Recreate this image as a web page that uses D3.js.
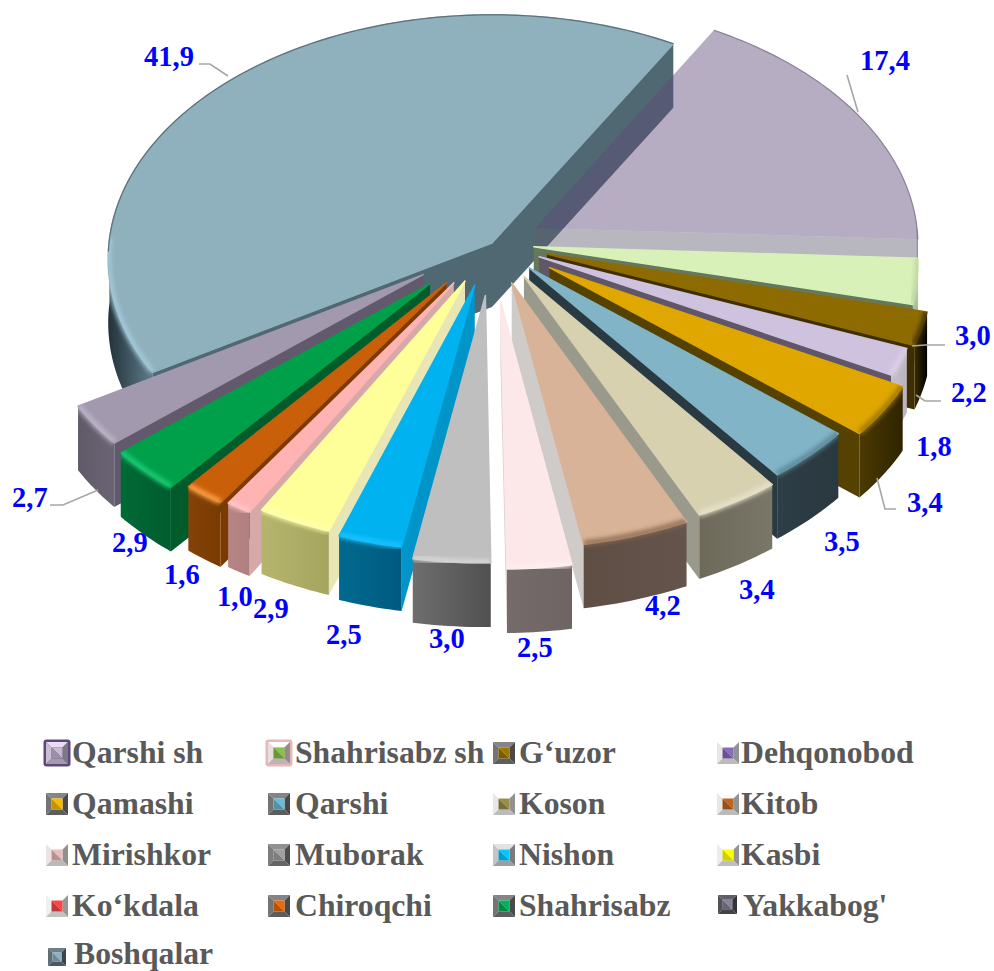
<!DOCTYPE html>
<html><head><meta charset="utf-8">
<style>html,body{margin:0;padding:0;background:#fff;overflow:hidden}svg{display:block}text{font-family:"Liberation Serif",serif;font-weight:bold}</style>
<script src="https://cdn.jsdelivr.net/npm/d3@7/dist/d3.min.js"></script>
</head><body><svg id="c" width="994" height="971"></svg>
<script>
// ---- data
const categories = ["Qarshi sh","Shahrisabz sh","G‘uzor","Dehqonobod","Qamashi","Qarshi","Koson","Kitob","Mirishkor","Muborak","Nishon","Kasbi","Ko‘kdala","Chiroqchi","Shahrisabz","Yakkabog'","Boshqalar"];
const values = [17.4,3.0,2.2,1.8,3.4,3.5,3.4,4.2,2.5,3.0,2.5,2.9,1.0,1.6,2.9,2.7,41.9];
const valueLabels = ["17,4","3,0","2,2","1,8","3,4","3,5","3,4","4,2","2,5","3,0","2,5","2,9","1,0","1,6","2,9","2,7","41,9"];
// ---- slice explosion (fraction of radius)
const explode = [.13,.11,.15,.135,.18,.14,.16,.17,.235,.214,.178,.17,.19,.2,.23,.22,0];
// ---- colours
const topFill = ["#5d4978","#d7f1b9","#8e6b00","#cfc2df","#dfa700","#80b4c6","#d7d1b0","#d9b397","#fde8e9","#bfbfbf","#00b2f0","#ffff99","#ffb3b3","#c95f08","#00a04a","#a299ae","#8fb0bd"];
const radialFill = ["#625e70","#66785a","#3f2e00","#5f5768","#554100","#2a3a42","#9a9a8c","#cfcbc8","#d8d0d0","#808080","#0095c8","#e8e6b4","#d6a8a8","#7a3a00","#005c2a","#625a6c","#506872"];
const wallA = ["#8a8498","#a8c090","#3d2c00","#c4c0cc","#4a3900","#2e3e46","#6e6a5a","#5e4e44","#756b6b","#6e6e6e","#006a90","#b5b56e","#b88484","#844208","#006a36","#5f5968","#22323a"];
const wallB = ["#8a8498","#a8c090","#000000","#b8b4c0","#2f2400","#2a383f","#7a7668","#64544c","#6e6464","#505050","#005a80","#a5a55f","#b08080","#7a3a00","#005c2e","#6a6474","#5e7c8a"];
const rimFill = ["#9a96a8","#bcd0a0","#3a2a00","#dcd4e4","#9a7400","#5a8494","#e8e4cc","#8a6a50","#fff0f0","#d8d8d8","#20c4ff","#ffffb0","#ffc8c8","#ffa850","#20d078","#beb6ca","#a4ccdc"];
const backEdge = ["#8a8098",null,null,null,null,null,null,null,null,null,null,null,null,null,null,null,"#5e7078"];
const swatchFrame = ["#b4acc0","#d0c8c8","#686868","#d0d0d0","#686868","#686868","#d0d0d0","#d0d0d0","#d4cccc","#707070","#b0b0b0","#d4d4d4","#d8d8d8","#686868","#686868","#4a4a50","#55636a"];
const swatchInner = ["#b0a8be","#78b040","#8c6a00","#7a60a8","#e0a800","#60a8c0","#8a8040","#b05a18","#d4a8a8","#909090","#00b4f0","#f0f000","#e04040","#d06008","#00a050","#7a7488","#7aa0b0"];
const swatchBorder = ["#5d4978","#e8b8b8",null,null,null,null,null,null,null,null,null,null,null,null,null,null,null];
// ---- annotation layout (screen px)
const labelPos = [[860,70],[955,345],[951,402],[916,456],[907,512],[824,551],[739,599],[645,615],[517,657],[429,648],[326,644],[253,618],[217,606],[164,584],[112,552],[12,507],[144,66]];
const leaders = [[[858,112],[847,75]],[[912,346],[925,345],[945,345]],[[916,395],[925,401],[941,401]],[[877,478],[885,509],[896,509]],null,null,null,null,null,null,null,null,null,null,null,[[98,490],[63,505],[50,505]],[[228,76],[210,64],[199,64]]];
const legendCols = [46,268,493,717];
const legendRows = [742,793,844,895,948];
const legendText = [72,295,519,741];

// ---- projection
const cx=492, cy=243, rx=383, ry=243, persp=.065, depth=64, startDeg=30;
const sx=d3.scaleLinear().domain([-1,1]).range([-rx,rx]);
const sy=d3.scaleLinear().domain([-1,1]).range([-ry,ry]);
const project=(X,Y,z=0)=>{const w=1/(1-persp*Y);return [cx+sx(X)*w, cy+sy(Y)*w+depth*z];};
const svg=d3.select("#c"), defs=svg.append("defs");
const blur=defs.append("filter").attr("id","blur").attr("x","-20%").attr("y","-20%").attr("width","140%").attr("height","140%");
blur.append("feGaussianBlur").attr("stdDeviation",2.2);
const line=d3.line();
const start=startDeg*Math.PI/180;
const arcs=d3.pie().sort(null).startAngle(start).endAngle(start+2*Math.PI)(values);
const order=arcs.map((a,i)=>({a,i,mid:(a.startAngle+a.endAngle)/2})).sort((p,q)=>(-Math.cos(p.mid))-(-Math.cos(q.mid)));
const chart=svg.append("g");

order.forEach(({a,i,mid})=>{
  const e=explode[i], ox=Math.sin(mid)*e, oy=-Math.cos(mid)*e;
  const pt=(th,r,z=0)=>project(ox+Math.sin(th)*r,oy-Math.cos(th)*r,z);
  const n=Math.max(3,Math.ceil((a.endAngle-a.startAngle)/(Math.PI/180)));
  const ths=d3.range(n+1).map(t=>a.startAngle+(a.endAngle-a.startAngle)*t/n);
  const outer=ths.map(t=>pt(t,1));
  const apex=[ox,oy]; const apexTop=project(...apex), apexBot=project(...apex,1);
  const translucent=i===0;
  const g=chart.append("g");
  const radial=(th)=>g.append("path").attr("d",line([apexTop,pt(th,1),pt(th,1,1),apexBot])+"Z").attr("fill",radialFill[i]).attr("fill-opacity",translucent?.45:1);
  // radial walls, only where they face the viewer
  if(Math.sin(a.startAngle)<0) radial(a.startAngle);
  if(Math.sin(a.endAngle)>0) radial(a.endAngle);
  // outer wall on the front half
  const front=ths.filter(t=>-Math.cos(t)>-0.02);
  let wallD=null;
  if(front.length>1){
    const tp=front.map(t=>pt(t,1)), bt=front.map(t=>pt(t,1,1)).reverse();
    wallD=line(tp.concat(bt))+"Z";
    const xs=tp.map(p=>p[0]);
    const gid="w"+i;
    const lg=defs.append("linearGradient").attr("id",gid).attr("gradientUnits","userSpaceOnUse").attr("x1",d3.min(xs)).attr("x2",d3.max(xs)).attr("y1",0).attr("y2",0);
    lg.append("stop").attr("offset",0).attr("stop-color",wallA[i]);
    lg.append("stop").attr("offset",1).attr("stop-color",wallB[i]);
    g.append("path").attr("d",wallD).attr("fill",`url(#${gid})`);
  }
  // top face
  const topD=line([apexTop].concat(outer))+"Z";
  const tf=g.append("path").attr("d",topD).attr("fill",topFill[i]).attr("fill-opacity",translucent?.45:1);
  if(!translucent) tf.attr("stroke",topFill[i]).attr("stroke-width",1.5).attr("stroke-linejoin","round");
  // soft rim between top and wall
  const frontRim=front.length>1?front.map(t=>pt(t,1)):null;
  if(frontRim){
    const cid="clip"+i, cp=defs.append("clipPath").attr("id",cid);
    cp.append("path").attr("d",topD); cp.append("path").attr("d",wallD);
    g.append("g").attr("clip-path",`url(#${cid})`).append("path").attr("d",line(frontRim.map(p=>[p[0],p[1]-1]))).attr("fill","none").attr("stroke",rimFill[i]).attr("stroke-width",6).attr("stroke-opacity",.85).attr("filter","url(#blur)");
  }
  if(backEdge[i]){
    const back=ths.filter(t=>-Math.cos(t)<0.05).map(t=>pt(t,1));
    if(back.length>1) g.append("path").attr("d",line(back)).attr("fill","none").attr("stroke",backEdge[i]).attr("stroke-width",1.2);
  }
});

// ---- leader lines and value labels
const labels=svg.append("g");
leaders.forEach(l=>{ if(l) labels.append("path").attr("d",line(l)).attr("fill","none").attr("stroke","#a6a6a6").attr("stroke-width",1.6); });
labels.selectAll("text").data(valueLabels).join("text").attr("x",(d,i)=>labelPos[i][0]).attr("y",(d,i)=>labelPos[i][1]).attr("fill","#0000ff").attr("font-size",28.5).text(d=>d);

// ---- legend
const legend=svg.append("g");
categories.forEach((c,i)=>{
  const col=i%4,row=Math.floor(i/4);
  const s=i===16?18:(i===15?19:22);
  const x=legendCols[col]+(i===16?2:(i===15?1:0)), y=legendRows[row];
  const g=legend.append("g").attr("transform",`translate(${x},${y})`);
  if(swatchBorder[i]) g.append("rect").attr("x",-2.5).attr("y",-2.5).attr("width",s+5).attr("height",s+5).attr("rx",3).attr("fill",swatchBorder[i]);
  const base=d3.color(swatchFrame[i]), b=s*.25, q=s-b;
  const facet=(pts,col)=>g.append("path").attr("d",line(pts)+"Z").attr("fill",col);
  facet([[0,0],[s,0],[q,b],[b,b]],base.brighter(.7));
  facet([[0,0],[b,b],[b,q],[0,s]],base.brighter(.3));
  facet([[s,0],[s,s],[q,q],[q,b]],base.darker(1));
  facet([[0,s],[b,q],[q,q],[s,s]],base.darker(.3));
  const inn=d3.color(swatchInner[i]);
  facet([[b,b],[q,b],[q,q]],inn.brighter(.3));
  facet([[b,b],[q,q],[b,q]],inn.darker(.4));
  legend.append("text").attr("x",legendText[col]+(i===16?2:(i===15?2:0))).attr("y",i===16?964:legendRows[row]+21).attr("font-size",31.7).attr("fill","#595959").text(c);
});
</script></body></html>
